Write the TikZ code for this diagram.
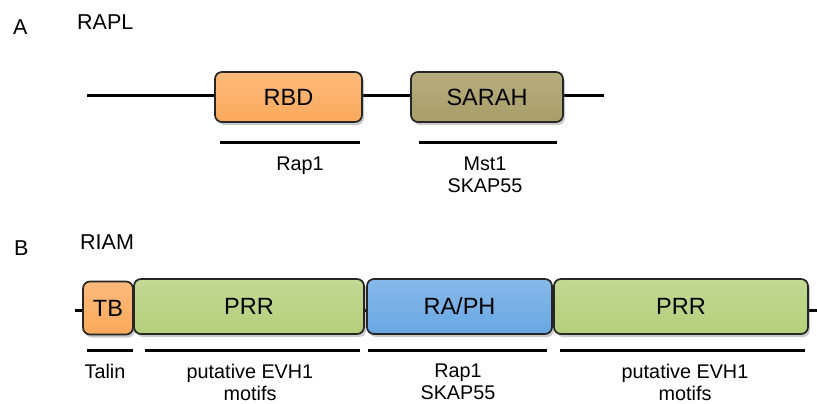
\documentclass[tikz,border=0pt]{standalone}
\usepackage{fontspec}
\setmainfont{Liberation Sans}
\usetikzlibrary{shadows}
\definecolor{orangeD}{HTML}{FBA95B}
\definecolor{oliveD}{HTML}{A99E69}
\definecolor{greenD}{HTML}{B4CF7A}
\definecolor{blueD}{HTML}{69A7E3}
\tikzset{
  x=1pt, y=-1pt,
  domain/.style={draw=black!85, line width=1.7pt, rounded corners=7pt,
    minimum height=#1, inner sep=0pt, font=\fontsize{23.5}{23.5}\selectfont,
    drop shadow={shadow xshift=2pt, shadow yshift=-3pt, opacity=0.35, fill=black!60}},
  domain/.default=50pt,
  backbone/.style={line width=3pt},
  binder/.style={line width=3pt},
  lbl/.style={font=\fontsize{19.8}{22}\selectfont, align=center, inner sep=0pt, anchor=north},
  paneltag/.style={font=\fontsize{21.5}{21.5}\selectfont, inner sep=0pt, anchor=west},
}
\begin{document}
\begin{tikzpicture}
\useasboundingbox (0,0) rectangle (817,404);

% ---- Panel A: RAPL ----
\node[paneltag] (tagA) at (13,27.5) {A};
\node[paneltag] (nameA) at (77,22) {RAPL};
\coordinate (a0) at (87,96);
\coordinate (a1) at (604,96);
\draw[backbone] (a0) -- (a1);
\node[domain, minimum width=147pt, top color=orangeD!80!white, bottom color=orangeD] (rbd) at (288.5,97) {RBD};
\node[domain, minimum width=152pt, top color=oliveD!85!white, bottom color=oliveD] (sarah) at (487,97) {SARAH};

\coordinate (r0) at (220,142); \coordinate (r1) at (360,142);
\draw[binder] (r0) -- (r1);
\coordinate (s0) at (419,142); \coordinate (s1) at (557,142);
\draw[binder] (s0) -- (s1);
\node[lbl] (rap1A) at (300,157) {Rap1};
\node[lbl] (mstA) at (485,157) {Mst1\\SKAP55};

% ---- Panel B: RIAM ----
\node[paneltag] (tagB) at (14,248) {B};
\node[paneltag] (nameB) at (80,242) {RIAM};
\coordinate (b0) at (75,310);
\coordinate (b1) at (817,310);
\draw[backbone] (b0) -- (b1);
\node[domain=53pt, minimum width=50pt, top color=orangeD!80!white, bottom color=orangeD] (tb) at (108,308) {TB};
\node[domain=55pt, minimum width=230pt, top color=greenD!80!white, bottom color=greenD] (prr1) at (249,306.5) {PRR};
\node[domain=55pt, minimum width=185pt, top color=blueD!80!white, bottom color=blueD] (raph) at (459.5,306.5) {RA/PH};
\node[domain=55pt, minimum width=254pt, top color=greenD!80!white, bottom color=greenD] (prr2) at (681,306.5) {PRR};

\coordinate (t0) at (87,350); \coordinate (t1) at (133,350);
\draw[binder] (t0) -- (t1);
\coordinate (p0) at (145,350); \coordinate (p1) at (360,350);
\draw[binder] (p0) -- (p1);
\coordinate (q0) at (368,350); \coordinate (q1) at (547,350);
\draw[binder] (q0) -- (q1);
\coordinate (u0) at (560,350); \coordinate (u1) at (805,350);
\draw[binder] (u0) -- (u1);

\node[lbl] (talin) at (105,364) {Talin};
\node[lbl] (evh1) at (250,364) {putative EVH1\\motifs};
\node[lbl] (rap1B) at (458,364) {Rap1\\SKAP55};
\node[lbl] (evh2) at (685,364) {putative EVH1\\motifs};
\end{tikzpicture}
\end{document}
